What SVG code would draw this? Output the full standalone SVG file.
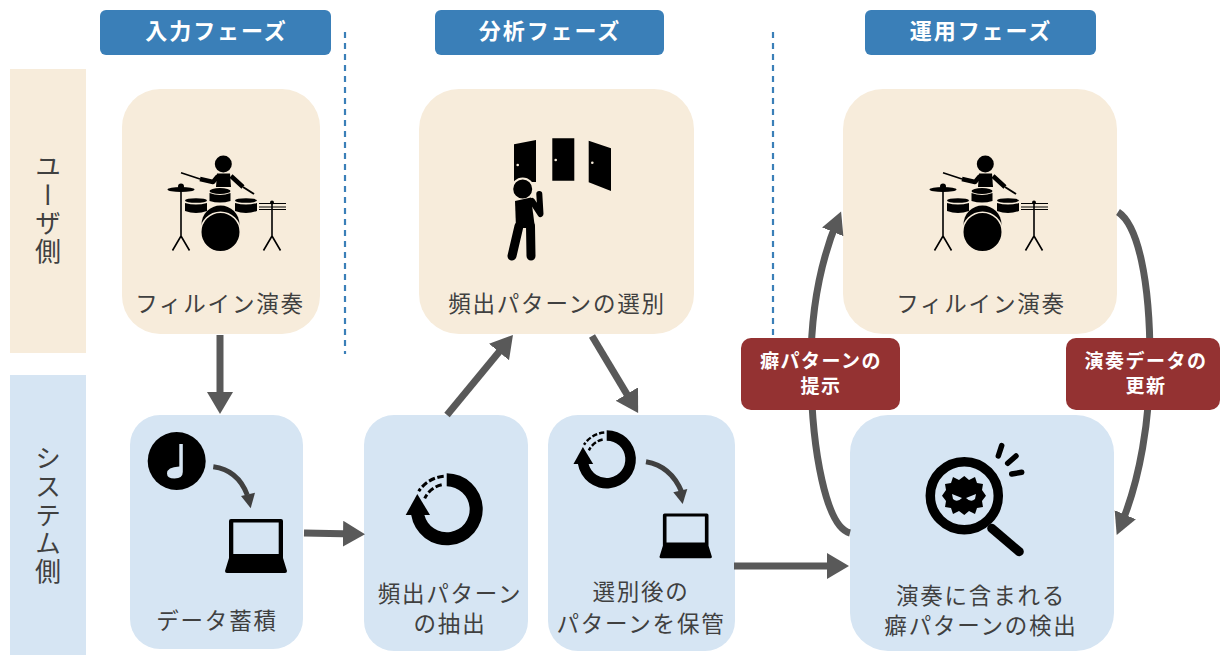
<svg xmlns="http://www.w3.org/2000/svg" xmlns:xlink="http://www.w3.org/1999/xlink" width="1220" height="655" viewBox="0 0 1220 655">
<style>
text{font-family:"Noto Sans CJK JP","Noto Sans",sans-serif;fill:#404040;font-size:22.500px;letter-spacing:1.800px;text-anchor:middle}
.hd{fill:#fff;font-weight:700;font-size:22px;letter-spacing:1.900px}
.tag{fill:#fff;font-weight:700;font-size:19px;letter-spacing:1.500px}
.side{font-size:26px;letter-spacing:2.300px;writing-mode:vertical-rl;text-anchor:middle}
.user{fill:#f7ecdb}.sys{fill:#d6e5f3}
.conn{fill:none;stroke:#595959;stroke-width:7}
.curve{fill:none;stroke:#595959;stroke-width:7}
.small{fill:none;stroke:#404040;stroke-width:5}
.phase{stroke:#3a7fb8;stroke-width:2.200;stroke-dasharray:6 5}
.thin{fill:none;stroke:#000;stroke-width:1.600}
</style>
<defs>
<marker id="ah" markerUnits="userSpaceOnUse" markerWidth="26" markerHeight="28" refX="12" refY="13" orient="auto"><path d="M0 0L22 13L0 26Z" fill="#595959"/></marker>
<marker id="ah2" markerUnits="userSpaceOnUse" markerWidth="26" markerHeight="26" refX="12" refY="11.500" orient="auto"><path d="M0 0L22 11.500L0 23Z" fill="#595959"/></marker>
<g id="drummer">
<circle cx="223.300" cy="164" r="8.500"/>
<path d="M217 173.500H230L231 187H216Z"/>
<path d="M181 172.700L200 179" class="thin"/>
<path d="M200 179L213 182L218 176M231 176L243 187" fill="none" stroke="#000" stroke-width="4.500" stroke-linejoin="round"/>
<path d="M243 187L254 194" fill="none" stroke="#000" stroke-width="2"/>
<ellipse cx="220" cy="191" rx="10.500" ry="3"/>
<path d="M209.500 193Q220 197 230.500 193V201Q220 204 209.500 201Z"/>
<ellipse cx="181" cy="189.500" rx="13.500" ry="2.600"/><circle cx="181" cy="186.500" r="3"/>
<path d="M181 190V236M181 236L172.500 250.500M181 236L189.500 250.500" class="thin"/>
<ellipse cx="196" cy="200.500" rx="11" ry="2.300"/><path d="M185 203Q196 206 207 203V211Q196 215 185 211Z"/>
<ellipse cx="246" cy="200.500" rx="11" ry="2.300"/><path d="M235 203Q246 206 257 203V211Q246 215 235 211Z"/>
<circle cx="220.500" cy="224.500" r="19"/>
<circle cx="220.500" cy="232" r="19.800" stroke="#f7ecdb" stroke-width="1.600"/>
<circle cx="272" cy="202.500" r="2"/>
<path d="M259 203.500H286M259 207H286M259 209.500H286" stroke="#000" stroke-width="1.200" fill="none"/>
<path d="M272 203V236M272 236L263.500 250.500M272 236L280.500 250.500" class="thin"/>
</g>
<path id="laptop" fill-rule="evenodd" d="M6 0H56Q58 0 58 2V39L62 52Q62 54 60 54H2Q0 54 0 52L4 39V2Q4 0 6 0ZM8.300 3.500V35H53.700V3.500Z"/>
<g id="cycle">
<path d="M0 -36A36 36 0 1 1 -35.500 5.700L-22.300 5.700A23 23 0 1 0 0 -23Z"/>
<path d="M-41 5.700H-16.700L-29.400 -15.300Z"/>
<path d="M-3 -33A33 33 0 0 0 -28 -18M-5 -24.500A25 25 0 0 0 -22 -11" fill="none" stroke="#000" stroke-width="3" stroke-dasharray="6.500 2.500"/>
</g>
</defs>

<g id="lane-user"><rect x="10" y="69" width="76" height="284" class="user"/><text class="side" x="48" y="210">ユーザ側</text></g>
<g id="lane-system"><rect x="10" y="375" width="76" height="280" class="sys"/><text class="side" x="48" y="516">システム側</text></g>

<g id="dividers"><path class="phase" d="M345 32V354"/><path class="phase" d="M773 32V354"/></g>

<g id="phase-input"><rect x="100" y="10" width="231" height="45" rx="6" fill="#3a7fb8"/><text class="hd" x="216.500" y="39">入力フェーズ</text></g>
<g id="phase-analysis"><rect x="435" y="10" width="229" height="45" rx="6" fill="#3a7fb8"/><text class="hd" x="550" y="39">分析フェーズ</text></g>
<g id="phase-operation"><rect x="865" y="10" width="231" height="45" rx="6" fill="#3a7fb8"/><text class="hd" x="981" y="39">運用フェーズ</text></g>

<g id="node-fillin-1"><rect x="122" y="89" width="198" height="245" rx="38" class="user"/><use xlink:href="#drummer" href="#drummer"/><text x="220" y="312">フィルイン演奏</text></g>

<g id="node-select"><rect x="419" y="89" width="275" height="245" rx="40" class="user"/>
<path d="M514 144.300L536 140V182H514Z"/><path d="M552.300 138.300H574.300V180.700H552.300Z"/><path d="M588.700 140.700L611 148.300V191L588.700 182.300Z"/>
<circle cx="517.700" cy="165" r="1.300" fill="#f7ecdb"/><circle cx="555.700" cy="160" r="1.300" fill="#f7ecdb"/><circle cx="592.300" cy="162.700" r="1.300" fill="#f7ecdb"/>
<circle cx="522.700" cy="189" r="10.500" stroke="#f7ecdb" stroke-width="2"/>
<path d="M515 201L531 197.500L535 228H516Z"/>
<path d="M519 226L512 256M530.500 226L531 256" fill="none" stroke="#000" stroke-width="9" stroke-linecap="round"/>
<path d="M532 201L540.500 214L539.300 194" fill="none" stroke="#000" stroke-width="6" stroke-linejoin="round" stroke-linecap="round"/>
<text x="557" y="312">頻出パターンの選別</text></g>

<g id="node-fillin-2"><rect x="843" y="89" width="274" height="245" rx="40" class="user"/><use xlink:href="#drummer" href="#drummer" x="762"/><text x="981" y="312">フィルイン演奏</text></g>

<g id="node-store"><rect x="130" y="415" width="173" height="234" rx="30" class="sys"/>
<circle cx="176.700" cy="461" r="29"/>
<path d="M179.300 444H182.800V472Q182.800 478.500 174.500 478.500Q167 478.500 167 473.500Q167 467 179.300 466.500Z" fill="#d6e5f3"/>
<path class="small" d="M213.300 466.700Q238 470 247.300 495"/><path d="M241 496L255 492.700L250.700 508.300Z" fill="#404040"/>
<use xlink:href="#laptop" href="#laptop" x="225" y="519"/>
<text x="217" y="629">データ蓄積</text></g>

<g id="node-extract"><rect x="364" y="415" width="164" height="236" rx="30" class="sys"/>
<use xlink:href="#cycle" href="#cycle" x="446.700" y="509.300"/>
<text x="450" y="602">頻出パターン</text><text x="450" y="632">の抽出</text></g>

<g id="node-keep"><rect x="548" y="415" width="187" height="236" rx="30" class="sys"/>
<g transform="translate(606.700 459.300) scale(.81)"><use xlink:href="#cycle" href="#cycle"/></g>
<path class="small" d="M646 461.700Q671 466 681.700 492"/><path d="M673.300 492.300L687.300 489L682.700 504Z" fill="#404040"/>
<g transform="translate(659.500 513.500) scale(.845 .83)"><use xlink:href="#laptop" href="#laptop"/></g>
<text x="641" y="600">選別後の</text><text x="641" y="632">パターンを保管</text></g>

<g id="node-detect"><rect x="850" y="415" width="264" height="236" rx="38" class="sys"/>
<circle cx="964.300" cy="495.700" r="34" fill="none" stroke="#000" stroke-width="9.500"/>
<path d="M991.700 528.300L1019.300 551.700" stroke="#000" stroke-width="9" stroke-linecap="round"/>
<path d="M964.300 476L969 480L975 477L977 483L983 484L982 490L986 495.700L982 501L983 507L977 508L975 514L969 511L964.300 515L959 511L953 514L951 508L945 507L946 501L942 495.700L946 490L945 484L951 483L953 477L959 480Z"/>
<path d="M952 494L962 498Q957 503 953 499ZM976 494L966 498Q971 503 975 499Z" fill="#d6e5f3"/>
<path d="M1001.700 445.700L998.300 456M1016 456L1007.700 463.300M1021.700 472.300L1011.700 474" stroke="#000" stroke-width="5.500" stroke-linecap="round"/>
<text x="981" y="604">演奏に含まれる</text><text x="981" y="634">癖パターンの検出</text></g>

<g id="connectors">
<path class="conn" marker-end="url(#ah)" d="M220 335V404"/>
<path class="conn" marker-end="url(#ah)" d="M304 533L355 534"/>
<path class="conn" marker-end="url(#ah)" d="M447 415L506.600 342.700"/>
<path class="conn" marker-end="url(#ah)" d="M592 336L633 404.400"/>
<path class="conn" marker-end="url(#ah)" d="M734 566H839"/>
<path class="curve" marker-end="url(#ah2)" d="M850 533C826 527 812 450 811 375C810 320 817 270 837.300 220.700"/>
<path class="curve" marker-end="url(#ah2)" d="M1118 212C1138 225 1150 280 1150 360C1150 420 1140 480 1120.600 525.800"/>
</g>

<g id="tag-present"><rect x="741" y="338" width="159" height="72" rx="10" fill="#943232"/><text class="tag" x="821" y="368">癖パターンの</text><text class="tag" x="821" y="393">提示</text></g>
<g id="tag-update"><rect x="1066" y="338" width="154" height="72" rx="10" fill="#943232"/><text class="tag" x="1146" y="368">演奏データの</text><text class="tag" x="1146" y="393">更新</text></g>
</svg>
